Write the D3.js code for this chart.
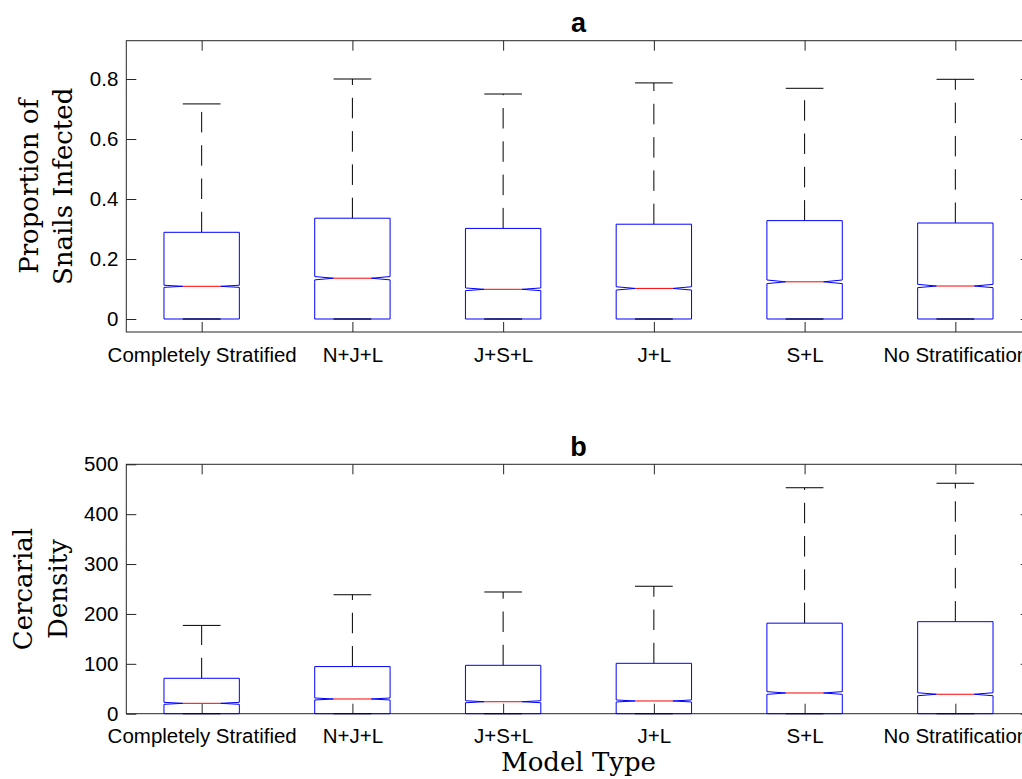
<!DOCTYPE html>
<html>
<head>
<meta charset="utf-8">
<script src="https://cdn.jsdelivr.net/npm/d3@7"></script>
<style>
  body { margin: 0; background: #fff; }
</style>
</head>
<body>
<div id="chart"></div>
<script>
// model types on the x axis (both panels)
var categories = ["Completely Stratified", "N+J+L", "J+S+L", "J+L", "S+L", "No Stratification"];

// panel a: proportion of snails infected
var propUpper = [0.717, 0.800, 0.750, 0.787, 0.769, 0.799];
var propQ3 = [0.289, 0.336, 0.302, 0.316, 0.328, 0.320];
var propMedian = [0.109, 0.136, 0.099, 0.102, 0.124, 0.110];
var propQ1 = [0, 0, 0, 0, 0, 0];
var propLower = [0, 0, 0, 0, 0, 0];
var propNotch = [0.0035, 0.0055, 0.0045, 0.0055, 0.006, 0.0055];
var propTicks = [0, 0.2, 0.4, 0.6, 0.8];

// panel b: cercarial density
var cercUpper = [177, 238.5, 244, 255.5, 453, 462];
var cercQ3 = [71, 94.5, 97, 101, 181.5, 184.5];
var cercMedian = [20.8, 29.5, 24, 25.5, 41.5, 39];
var cercQ1 = [0, 0, 0, 0, 0, 0];
var cercLower = [0, 0, 0, 0, 0, 0];
var cercNotch = [2, 2, 2, 2, 2.7, 3];
var cercTicks = [0, 100, 200, 300, 400, 500];

function main() {

    var W = 1022, H = 779;
    var left = 126.3, right = 1030.7;
    var axisColor = "#262626";
    var sans = "'Liberation Sans', Arial, Helvetica, sans-serif";
    var serif = "'DejaVu Serif', serif";

    var svg = d3.select("#chart")
        .append("svg")
        .attr("width", W)
        .attr("height", H);

    var x = d3.scaleLinear()
        .domain([0.5, categories.length + 0.5])
        .range([left, right]);

    function drawPanel(p) {
        var y = d3.scaleLinear().domain(p.domain).range([p.bottom, p.top]);
        var g = svg.append("g");

        var rows = categories.map(function (c, i) {
            return {
                pos: i + 1, upper: p.upper[i], q3: p.q3[i], med: p.median[i],
                q1: p.q1[i], lower: p.lower[i], notch: p.notch[i]
            };
        });

        // axes: ticks point inward on all four sides
        g.append("g")
            .attr("transform", "translate(0," + p.bottom + ")")
            .call(d3.axisBottom(x)
                .tickValues(rows.map(function (d) { return d.pos; }))
                .tickFormat(function (d) { return categories[d - 1]; })
                .tickSizeInner(-10).tickSizeOuter(0).tickPadding(15));
        g.append("g")
            .attr("transform", "translate(0," + p.top + ")")
            .call(d3.axisTop(x)
                .tickValues(rows.map(function (d) { return d.pos; }))
                .tickFormat("")
                .tickSizeInner(-10).tickSizeOuter(0));
        g.append("g")
            .attr("transform", "translate(" + left + ",0)")
            .call(d3.axisLeft(y)
                .tickValues(p.ticks)
                .tickFormat(function (d) { return String(d); })
                .tickSizeInner(-10).tickSizeOuter(0).tickPadding(8));
        g.append("g")
            .attr("transform", "translate(" + right + ",0)")
            .call(d3.axisRight(y)
                .tickValues(p.ticks)
                .tickFormat("")
                .tickSizeInner(-10).tickSizeOuter(0));

        g.selectAll(".domain").remove();
        g.selectAll(".tick line").attr("stroke", axisColor);
        g.selectAll(".tick text")
            .attr("fill", "#000")
            .style("font-family", sans)
            .style("font-size", "20.5px");

        g.append("rect")
            .attr("x", left).attr("y", p.top)
            .attr("width", right - left).attr("height", p.bottom - p.top)
            .attr("fill", "none").attr("stroke", axisColor).attr("stroke-width", 1);

        var boxes = g.selectAll("g.box")
            .data(rows)
            .enter()
            .append("g")
            .attr("class", "box");

        // whiskers
        boxes.append("line")
            .attr("x1", function (d) { return x(d.pos); })
            .attr("x2", function (d) { return x(d.pos); })
            .attr("y1", function (d) { return y(d.q3); })
            .attr("y2", function (d) { return y(d.upper); })
            .attr("stroke", "#000").attr("stroke-dasharray", "20.5 12.8");
        boxes.append("line")
            .attr("x1", function (d) { return x(d.pos); })
            .attr("x2", function (d) { return x(d.pos); })
            .attr("y1", function (d) { return y(d.q1); })
            .attr("y2", function (d) { return y(d.lower); })
            .attr("stroke", "#000").attr("stroke-dasharray", "20.5 12.8");

        // caps
        ["upper", "lower"].forEach(function (k) {
            boxes.append("line")
                .attr("x1", function (d) { return x(d.pos - 0.125); })
                .attr("x2", function (d) { return x(d.pos + 0.125); })
                .attr("y1", function (d) { return y(d[k]); })
                .attr("y2", function (d) { return y(d[k]); })
                .attr("stroke", "#000");
        });

        // notched box
        boxes.append("path")
            .attr("fill", "none")
            .attr("stroke", "#0000ff")
            .attr("d", function (d) {
                var x1 = x(d.pos - 0.25), x2 = x(d.pos + 0.25);
                var n1 = x(d.pos - 0.125), n2 = x(d.pos + 0.125);
                var pts = [
                    [x1, y(d.q1)], [x2, y(d.q1)], [x2, y(d.med - d.notch)],
                    [n2, y(d.med)], [x2, y(d.med + d.notch)], [x2, y(d.q3)],
                    [x1, y(d.q3)], [x1, y(d.med + d.notch)], [n1, y(d.med)],
                    [x1, y(d.med - d.notch)]
                ];
                return "M" + pts.join("L") + "Z";
            });

        // medians
        boxes.append("line")
            .attr("x1", function (d) { return x(d.pos - 0.125); })
            .attr("x2", function (d) { return x(d.pos + 0.125); })
            .attr("y1", function (d) { return y(d.med); })
            .attr("y2", function (d) { return y(d.med); })
            .attr("stroke", "#ff0000");

        // bottom cap drawn over the box edge
        boxes.append("line")
            .attr("x1", function (d) { return x(d.pos - 0.125); })
            .attr("x2", function (d) { return x(d.pos + 0.125); })
            .attr("y1", function (d) { return y(d.lower); })
            .attr("y2", function (d) { return y(d.lower); })
            .attr("stroke", "#000").attr("stroke-opacity", 0.5);

        // title
        svg.append("text")
            .attr("x", (left + right) / 2)
            .attr("y", p.top - 8.4)
            .attr("text-anchor", "middle")
            .style("font-family", sans)
            .style("font-weight", "bold")
            .style("font-size", "27px")
            .text(p.title);

        // two-line y label
        p.ylabel.forEach(function (line, i) {
            svg.append("text")
                .attr("transform", "translate(" + p.labelX[i] + "," + (p.top + p.bottom) / 2 + ") rotate(-90)")
                .attr("text-anchor", "middle")
                .style("font-family", serif)
                .style("font-size", "26px")
                .text(line);
        });
    }

    drawPanel({
        title: "a", top: 40.7, bottom: 332, domain: [-0.0433, 0.9277],
        upper: propUpper, q3: propQ3, median: propMedian, q1: propQ1,
        lower: propLower, notch: propNotch, ticks: propTicks,
        ylabel: ["Proportion of", "Snails Infected"], labelX: [37.5, 72]
    });

    drawPanel({
        title: "b", top: 464.3, bottom: 713.7, domain: [0, 500],
        upper: cercUpper, q3: cercQ3, median: cercMedian, q1: cercQ1,
        lower: cercLower, notch: cercNotch, ticks: cercTicks,
        ylabel: ["Cercarial", "Density"], labelX: [32, 67]
    });

    svg.append("text")
        .attr("x", (left + right) / 2)
        .attr("y", 771)
        .attr("text-anchor", "middle")
        .style("font-family", serif)
        .style("font-size", "26px")
        .text("Model Type");
}

main();
</script>
</body>
</html>
